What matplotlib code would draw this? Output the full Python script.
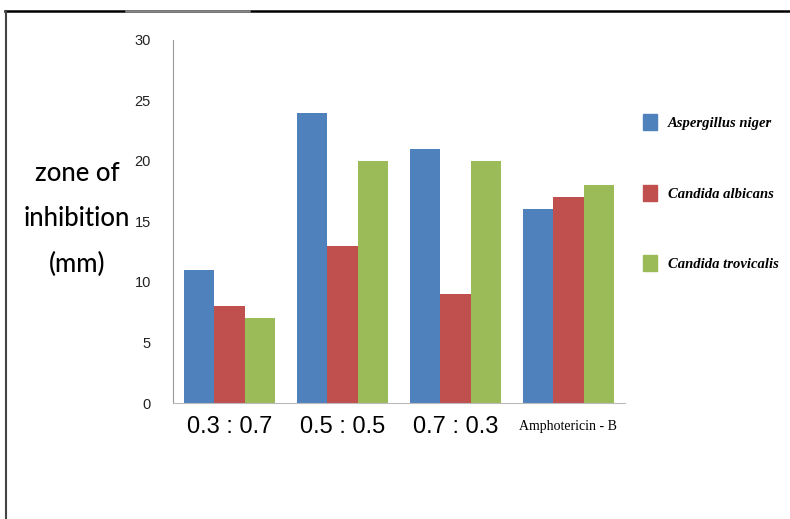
import matplotlib.pyplot as plt
import numpy as np
from matplotlib.lines import Line2D
from matplotlib.patches import Patch

categories = ['0.3 : 0.7', '0.5 : 0.5', '0.7 : 0.3', 'Amphotericin - B']
species = ['Aspergillus niger', 'Candida albicans', 'Candida trovicalis']
aspergillus = [11, 24, 21, 16]
albicans = [8, 13, 9, 17]
trovicalis = [7, 20, 20, 18]
colors = ['#4F81BD', '#C0504D', '#9BBB59']

sans = ['Liberation Sans', 'DejaVu Sans']
serif = ['Liberation Serif', 'DejaVu Serif']

fig = plt.figure(figsize=(7.9, 5.19), dpi=100)
ax = fig.add_axes([0.219, 0.2235, 0.572, 0.6995])

x = np.arange(len(categories))
w = 0.27
for i, (vals, c) in enumerate(zip([aspergillus, albicans, trovicalis], colors)):
    ax.bar(x + (i - 1) * w, vals, w, color=c, label=species[i])

ax.set_xlim(-0.5, 3.5)
ax.set_ylim(0, 30)
ax.set_yticks(range(0, 31, 5))
ax.set_xticks(x)
ax.set_xticklabels(categories)
for t, lab in zip(ax.get_xticklabels(), categories):
    if lab.startswith('Amph'):
        t.set_family(serif)
        t.set_fontsize(10)
        t.set_y(-0.012)
    else:
        t.set_family(sans)
        t.set_fontsize(17)
for t in ax.get_yticklabels():
    t.set_family(sans)
    t.set_fontsize(10.5)
    t.set_color('#222222')
ax.tick_params(axis='y', length=0, pad=16)
ax.tick_params(axis='x', length=0, pad=9)

for s in ['top', 'right']:
    ax.spines[s].set_visible(False)
ax.spines['left'].set_color('#999999')
ax.spines['bottom'].set_color('#bbbbbb')
ax.spines['left'].set_linewidth(0.8)
ax.spines['bottom'].set_linewidth(0.8)

fig.text(0.0975, 0.578, 'zone of\ninhibition\n(mm)', ha='center', va='center',
         fontsize=18.5, family=['Lato', 'DejaVu Sans'], weight='medium',
         linespacing=2.0)

# legend stacked on the right with wide spacing
handles = [Patch(color=c) for c in colors]
leg = fig.legend(handles, species, loc='upper left', bbox_to_anchor=(0.797, 0.805),
                 frameon=False, labelspacing=3.75, handlelength=1.0, handleheight=1.3,
                 handletextpad=0.7,
                 prop={'family': serif, 'style': 'italic', 'weight': 'bold', 'size': 10.5})

# page frame
fig.add_artist(Line2D([0.006, 1.0], [0.979, 0.979], color='black', lw=1.8))
fig.add_artist(Line2D([0.16, 0.315], [0.979, 0.979], color='#888888', lw=1.8))
fig.add_artist(Line2D([0.007, 0.007], [0.0, 0.979], color='#444444', lw=1.5))

fig.savefig('out.png', dpi=100)
